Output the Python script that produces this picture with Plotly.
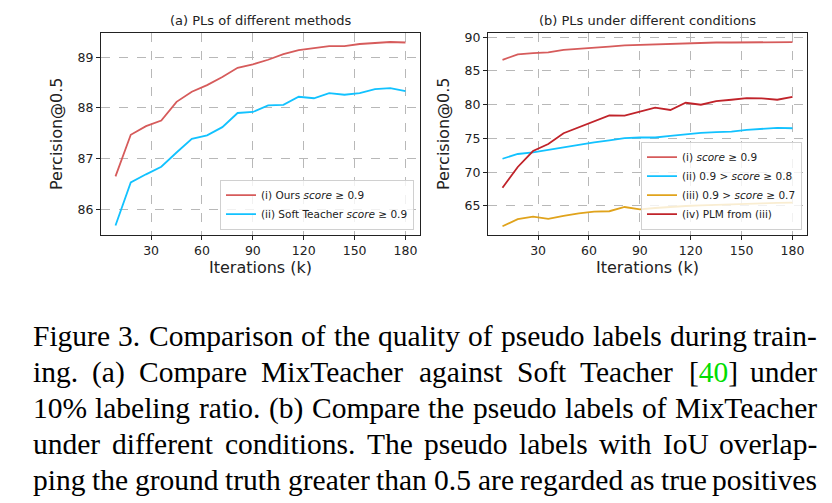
import re
import plotly.graph_objects as go

iters = [9, 18, 27, 36, 45, 54, 63, 72, 81, 90, 99, 108, 117, 126, 135, 144, 153, 162, 171, 180]

ours = [86.65, 87.47, 87.64, 87.75, 88.12, 88.32, 88.45, 88.61, 88.79, 88.86,
        88.95, 89.06, 89.14, 89.18, 89.22, 89.22, 89.26, 89.28, 89.30, 89.29]
soft_teacher = [85.68, 86.53, 86.69, 86.84, 87.12, 87.39, 87.46, 87.62, 87.90, 87.92,
                88.05, 88.06, 88.22, 88.19, 88.29, 88.26, 88.29, 88.37, 88.39, 88.33]

cond_i = ours
cond_ii = [72.0, 72.7, 72.94, 73.33, 73.63, 74.07, 74.41, 74.71, 75.05, 75.15,
           75.15, 75.39, 75.64, 75.83, 75.93, 76.03, 76.27, 76.42, 76.57, 76.52]
cond_iii = [62.0, 63.04, 63.43, 63.09, 63.53, 63.92, 64.17, 64.22, 64.85, 64.51,
            64.7, 64.9, 65.0, 65.1, 65.2, 65.25, 65.3, 65.4, 65.45, 65.5]
cond_iv = [67.7, 70.78, 73.14, 74.17, 75.78, 76.67, 77.45, 78.43, 78.38, 78.92,
           79.56, 79.22, 80.29, 80.0, 80.54, 80.74, 80.98, 80.93, 80.74, 81.18]

x_ticks = [30, 60, 90, 120, 150, 180]
y_ticks_a = [86, 87, 88, 89]
y_ticks_b = [65, 70, 75, 80, 85, 90]

caption_lines = [
    "Figure 3. Comparison of the quality of pseudo labels during train-",
    "ing. (a) Compare MixTeacher against Soft Teacher [<span style='color:#00dd00'>40</span>] under",
    "10% labeling ratio. (b) Compare the pseudo labels of MixTeacher",
    "under different conditions. The pseudo labels with IoU overlap-",
    "ping the ground truth greater than 0.5 are regarded as true positives",
]

# approximate Times glyph advance widths (em) used to justify the caption
TIMES_W = dict(zip("abcdefghijklmnopqrstuvwxyz",
                   [.444, .5, .444, .5, .444, .333, .5, .5, .278, .278, .5, .278, .778,
                    .5, .5, .5, .5, .333, .389, .278, .5, .5, .722, .5, .5, .444]))
TIMES_W.update({"C": .667, "F": .556, "I": .333, "M": .889, "S": .556, "T": .611, "U": .722,
                ".": .25, "-": .333, "(": .333, ")": .333, "[": .333, "]": .333, "%": .833})
for d in "0123456789":
    TIMES_W[d] = .5


def word_width(w, size):
    plain = re.sub(r"<[^>]+>", "", w)
    return sum(TIMES_W.get(c, .5) for c in plain) * size


C_RED = "#d65b5b"
C_CYAN = "#12c2ff"
C_GOLD = "#e0a31c"
C_DARK = "#c0232a"

W, H = 832, 503
fig = go.Figure()

lw = 1.8
fig.add_trace(go.Scatter(x=iters, y=ours, mode="lines", line=dict(color=C_RED, width=lw),
                         name="(i) Ours <i>score</i> ≥ 0.9", xaxis="x", yaxis="y", legend="legend"))
fig.add_trace(go.Scatter(x=iters, y=soft_teacher, mode="lines", line=dict(color=C_CYAN, width=lw),
                         name="(ii) Soft Teacher <i>score</i> ≥ 0.9", xaxis="x", yaxis="y", legend="legend"))

fig.add_trace(go.Scatter(x=iters, y=cond_i, mode="lines", line=dict(color=C_RED, width=lw),
                         name="(i) <i>score</i> ≥ 0.9", xaxis="x2", yaxis="y2", legend="legend2"))
fig.add_trace(go.Scatter(x=iters, y=cond_ii, mode="lines", line=dict(color=C_CYAN, width=lw),
                         name="(ii) 0.9 > <i>score</i> ≥ 0.8", xaxis="x2", yaxis="y2", legend="legend2"))
fig.add_trace(go.Scatter(x=iters, y=cond_iii, mode="lines", line=dict(color=C_GOLD, width=lw),
                         name="(iii) 0.9 > <i>score</i> ≥ 0.7", xaxis="x2", yaxis="y2", legend="legend2"))
fig.add_trace(go.Scatter(x=iters, y=cond_iv, mode="lines", line=dict(color=C_DARK, width=lw),
                         name="(iv) PLM from (iii)", xaxis="x2", yaxis="y2", legend="legend2"))

ydom = [1 - 225 / H, 1 - 22 / H]
tickfont = dict(family="DejaVu Sans", size=12.5, color="#222")
common_ax = dict(showline=True, mirror=True, linecolor="#222", linewidth=1.2,
                 ticks="outside", ticklen=4, tickcolor="#222", tickfont=tickfont,
                 showgrid=True, gridcolor="#b8b8b8", griddash="dash", gridwidth=1,
                 zeroline=False)
xtitle = dict(text="Iterations (k)", font=dict(family="DejaVu Sans", size=16, color="#222"), standoff=2)
ytitle = dict(text="Percision@0.5", font=dict(family="DejaVu Sans", size=16, color="#222"), standoff=10)

legend_common = dict(bgcolor="rgba(255,255,255,0.8)", bordercolor="#d0d0d0", borderwidth=1,
                     font=dict(family="DejaVu Sans", size=10.5, color="#222"),
                     tracegroupgap=0, itemwidth=30, xanchor="right", yanchor="bottom")

fig.update_layout(
    width=W, height=H,
    margin=dict(l=0, r=0, t=0, b=0),
    paper_bgcolor="white", plot_bgcolor="white",
    xaxis=dict(domain=[93 / W, 412 / W], range=[0.45, 188.55], tickvals=x_ticks,
               anchor="y", title=xtitle, **common_ax),
    yaxis=dict(domain=ydom, range=[85.5, 89.48], tickvals=y_ticks_a,
               anchor="x", title=ytitle, **common_ax),
    xaxis2=dict(domain=[480 / W, 799 / W], range=[0.45, 188.55], tickvals=x_ticks,
                anchor="y2", title=xtitle, **common_ax),
    yaxis2=dict(domain=ydom, range=[60.75, 90.65], tickvals=y_ticks_b,
                anchor="x2", title=ytitle, **common_ax),
    legend=dict(x=406 / W, y=1 - 220 / H, **legend_common),
    legend2=dict(x=794 / W, y=1 - 220 / H, **legend_common),
    showlegend=True,
)

annotations = [
    dict(text="(a) PLs of different methods", x=(93 + 412) / 2 / W, y=1 - 10 / H,
         xref="paper", yref="paper", xanchor="center", yanchor="middle", showarrow=False,
         font=dict(family="DejaVu Sans", size=13, color="#222")),
    dict(text="(b) PLs under different conditions", x=(480 + 799) / 2 / W, y=1 - 10 / H,
         xref="paper", yref="paper", xanchor="center", yanchor="middle", showarrow=False,
         font=dict(family="DejaVu Sans", size=13, color="#222")),
]

cap_size = 29.5
cap_left, cap_right = 24, 810
cap_y0 = 327
cap_dy = 36.2
for i, line in enumerate(caption_lines):
    words = re.split(r" (?![^<]*>)", line)
    widths = [word_width(w, cap_size) for w in words]
    gap = (cap_right - cap_left - sum(widths)) / (len(words) - 1)
    xp = cap_left
    ypos = 1 - (cap_y0 + i * cap_dy) / H
    for j, (word, wd) in enumerate(zip(words, widths)):
        last = j == len(words) - 1
        annotations.append(dict(text=word, x=(cap_right if last else xp) / W, y=ypos,
                                xref="paper", yref="paper",
                                xanchor="right" if last else "left", yanchor="middle",
                                showarrow=False, borderpad=0,
                                font=dict(family="Liberation Serif", size=cap_size, color="black")))
        xp += wd + gap
fig.update_layout(annotations=annotations)

fig.write_html("out.html")
